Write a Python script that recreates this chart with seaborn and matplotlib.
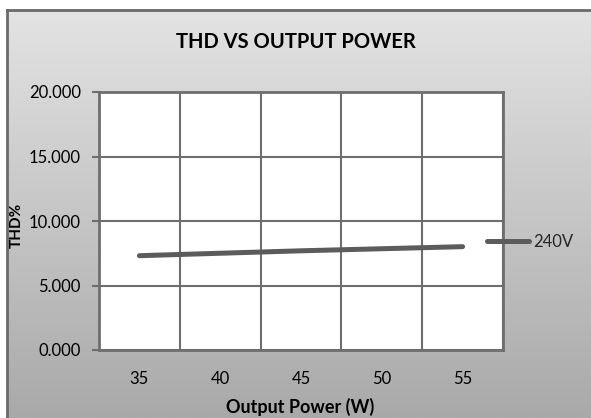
import numpy as np
import pandas as pd
import seaborn as sns
import matplotlib.pyplot as plt
from matplotlib.ticker import MultipleLocator, FixedLocator

# data
power = [35, 40, 45, 50, 55]
thd_240v = [7.31, 7.50, 7.69, 7.85, 8.01]
series_name = "240V"

df = pd.DataFrame({"power": power, "thd": thd_240v, "series": series_name})

sns.set_theme(style="white")
plt.rcParams["font.family"] = ["Lato", "DejaVu Sans"]

fig = plt.figure(figsize=(5.91, 4.18), dpi=100)
fig.patch.set_facecolor("white")

# gray gradient background with frame
bg = fig.add_axes([7 / 591, 0, 1, 408 / 418], zorder=0)
grad = np.linspace(0, 1, 256).reshape(-1, 1)
bg.imshow(grad, aspect="auto", cmap=plt.matplotlib.colors.LinearSegmentedColormap.from_list(
    "g", ["#e3e3e3", "#a9a9a9"]), extent=[0, 1, 0, 1], origin="upper")
bg.set_xticks([])
bg.set_yticks([])
for s in ["right", "bottom"]:
    bg.spines[s].set_visible(False)
for s in ["left", "top"]:
    bg.spines[s].set_color("#6a6a6a")
    bg.spines[s].set_linewidth(2)

ax = fig.add_axes([99 / 591, 1 - 350 / 418, 404 / 591, 258 / 418], zorder=1)
ax.set_facecolor("white")
sns.lineplot(data=df, x="power", y="thd", hue="series", palette=["#5c5c5c"],
             linewidth=3.6, solid_capstyle="round", legend=False, ax=ax)

ax.set_xlim(32.5, 57.5)
ax.set_ylim(0, 20)
ax.xaxis.set_major_locator(FixedLocator(power))
ax.xaxis.set_minor_locator(MultipleLocator(5, offset=2.5))
ax.yaxis.set_major_locator(MultipleLocator(5))
ax.set_yticklabels([f"{v:.3f}" for v in ax.get_yticks()])
ax.grid(True, which="minor", axis="x", color="#6e6e6e", linewidth=1.5)
ax.grid(True, which="major", axis="y", color="#6e6e6e", linewidth=1.5)
ax.set_axisbelow(True)
ax.tick_params(axis="x", which="both", length=0, pad=15, labelsize=12, colors="black")
ax.tick_params(axis="y", which="major", length=5, width=1.5, color="#6e6e6e",
               direction="out", left=True, pad=8, labelsize=12, labelcolor="black")
for s in ax.spines.values():
    s.set_color("#6e6e6e")
    s.set_linewidth(2)

ax.set_xlabel("Output Power (W)", fontsize=13, fontweight="bold", color="black")
ax.xaxis.set_label_coords(0.4975, -0.185)
ax.set_ylabel("THD%", fontsize=11, fontweight="bold", color="black")
ax.yaxis.set_label_coords(-0.186, 0.484)

fig.text(296 / 591, 1 - 42 / 418, "THD VS OUTPUT POWER", ha="center", va="center",
         fontsize=14.5, fontweight="bold", color="black")

handle = plt.Line2D([], [], color="#5c5c5c", linewidth=3.6, solid_capstyle="round")
leg = fig.legend([handle], [series_name], loc="center left",
                 bbox_to_anchor=(487 / 591, 1 - 242 / 418), frameon=False,
                 borderpad=0, borderaxespad=0, handlelength=2.5, handletextpad=0.25,
                 fontsize=12)
leg.set_zorder(5)

fig.savefig("out.png", dpi=100)
